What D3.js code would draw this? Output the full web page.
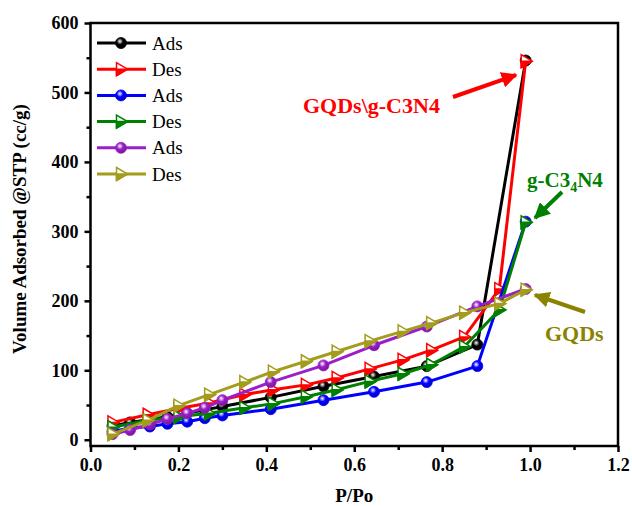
<!DOCTYPE html>
<html>
<head>
<meta charset="utf-8">
<script src="https://cdn.jsdelivr.net/npm/d3@7"></script>
<style>
  body { margin: 0; background: #fff; }
  svg text { font-family: "Liberation Serif", "Times New Roman", serif; font-weight: bold; }
</style>
</head>
<body>
<svg id="chart" width="632" height="506"></svg>
<script>
// relative pressure points
const adsX = [0.05, 0.09, 0.135, 0.175, 0.22, 0.26, 0.30, 0.41, 0.53, 0.645, 0.765, 0.88, 0.99];
const desX = [0.05, 0.13, 0.20, 0.27, 0.35, 0.415, 0.49, 0.56, 0.635, 0.71, 0.775, 0.85, 0.93, 0.99];

// volume adsorbed (cc/g)
const compositeAds = [20, 25, 29, 33, 38, 43, 48, 61, 77, 91, 106, 137, 546];
const compositeDes = [25, 36, 45, 53, 65, 72, 79, 89, 102, 115, 129, 148, 217, 545];
const gcnAds = [12, 17, 19, 23, 26, 31, 35, 44, 57, 69, 83, 106, 314];
const gcnDes = [18, 28, 33, 38, 46, 52, 62, 72, 84, 95, 108, 134, 187, 313];
const gqdAds = [8, 14, 22, 30, 38, 46, 57, 83, 107, 136, 163, 192, 217];
const gqdDes = [8, 28, 49, 65, 83, 98, 113, 127, 142, 156, 168, 183, 196, 216];

const xTicks = [0, 0.2, 0.4, 0.6, 0.8, 1.0, 1.2];
const yTicks = [0, 100, 200, 300, 400, 500, 600];

const series = [
  {name: "Ads", x: adsX, y: compositeAds, color: "#000000", marker: "circle"},
  {name: "Des", x: desX, y: compositeDes, color: "#ff0000", marker: "tri"},
  {name: "Ads", x: adsX, y: gcnAds, color: "#0000ff", marker: "circle"},
  {name: "Des", x: desX, y: gcnDes, color: "#008000", marker: "tri"},
  {name: "Ads", x: adsX, y: gqdAds, color: "#9a1fc8", marker: "circle"},
  {name: "Des", x: desX, y: gqdDes, color: "#a39c1c", marker: "tri"}
];

const svg = d3.select("#chart");
const margin = {left: 90.5, right: 618, top: 23, bottom: 446};

const x = d3.scaleLinear().domain([0, 1.2]).range([margin.left, margin.right]);
const y = d3.scaleLinear().domain([-9, 600]).range([margin.bottom, margin.top]);

// gradients for the shaded ball markers
const defs = svg.append("defs");
series.forEach((s, i) => {
  const g = defs.append("radialGradient")
    .attr("id", "ball" + i)
    .attr("cx", "40%").attr("cy", "35%").attr("r", "65%");
  g.append("stop").attr("offset", "0%").attr("stop-color", "#ffffff");
  g.append("stop").attr("offset", "45%").attr("stop-color", s.color);
  g.append("stop").attr("offset", "100%").attr("stop-color", d3.color(s.color).darker(0.8));
});

// axes
const xMinor = d3.axisBottom(x).tickValues(d3.range(0.1, 1.2, 0.2)).tickSize(4).tickFormat("");
const xMajor = d3.axisBottom(x).tickValues(xTicks).tickSize(6).tickPadding(6).tickFormat(d3.format(".1f"));
const yMinor = d3.axisLeft(y).tickValues(d3.range(50, 600, 100)).tickSize(4).tickFormat("");
const yMajor = d3.axisLeft(y).tickValues(yTicks).tickSize(6).tickPadding(6).tickFormat(d3.format("d"));

function styleAxis(g) {
  g.select(".domain").remove();
  g.selectAll("line").attr("stroke", "#000").attr("stroke-width", 2.5);
  g.selectAll("text").attr("font-size", 18).attr("fill", "#000")
    .style("font-family", "'Liberation Serif', serif").style("font-weight", "bold");
}

svg.append("g").attr("transform", `translate(0,${margin.bottom})`).call(xMinor).call(styleAxis);
svg.append("g").attr("transform", `translate(0,${margin.bottom})`).call(xMajor).call(styleAxis);
svg.append("g").attr("transform", `translate(${margin.left},0)`).call(yMinor).call(styleAxis);
svg.append("g").attr("transform", `translate(${margin.left},0)`).call(yMajor).call(styleAxis);

// frame
svg.append("rect")
  .attr("x", margin.left).attr("y", margin.top)
  .attr("width", margin.right - margin.left).attr("height", margin.bottom - margin.top)
  .attr("fill", "none").attr("stroke", "#000").attr("stroke-width", 2.5);

// axis titles
svg.append("text")
  .attr("x", (margin.left + margin.right) / 2).attr("y", 502)
  .attr("text-anchor", "middle").attr("font-size", 19)
  .text("P/Po");

svg.append("text")
  .attr("transform", "translate(26,229) rotate(-90)")
  .attr("text-anchor", "middle").attr("font-size", 19)
  .text("Volume Adsorbed @STP (cc/g)");

const line = d3.line().x(d => x(d[0])).y(d => y(d[1]));

function drawMarker(g, s, i, cx, cy) {
  if (s.marker === "circle") {
    g.append("circle").attr("cx", cx).attr("cy", cy).attr("r", 5.5)
      .attr("fill", `url(#ball${i})`).attr("stroke", s.color).attr("stroke-width", 0.8);
  } else {
    g.append("path")
      .attr("d", `M${cx - 4.5},${cy - 6.5}L${cx + 6.5},${cy}L${cx - 4.5},${cy + 6.5}Z`)
      .attr("fill", "#fff").attr("stroke", s.color).attr("stroke-width", 1.5);
    g.append("path")
      .attr("d", `M${cx - 4.5},${cy}L${cx + 6.5},${cy}L${cx - 4.5},${cy + 6.5}Z`)
      .attr("fill", s.color).attr("stroke", s.color).attr("stroke-width", 1.5)
      .attr("stroke-linejoin", "round");
  }
}

// series
series.forEach((s, i) => {
  const pts = s.x.map((v, k) => [v, s.y[k]]);
  const g = svg.append("g");
  g.append("path").datum(pts)
    .attr("d", line).attr("fill", "none")
    .attr("stroke", s.color).attr("stroke-width", 3).attr("stroke-linejoin", "round");
  pts.forEach(p => drawMarker(g, s, i, x(p[0]), y(p[1])));
});

// legend
const legend = svg.append("g");
series.forEach((s, i) => {
  const ly = 43 + i * 26.2;
  legend.append("line")
    .attr("x1", 97).attr("x2", 146).attr("y1", ly).attr("y2", ly)
    .attr("stroke", s.color).attr("stroke-width", 3);
  drawMarker(legend, s, i, 121, ly);
  legend.append("text")
    .attr("x", 152).attr("y", ly + 6.5)
    .attr("font-size", 19).style("font-weight", "normal")
    .text(s.name);
});

// annotations
const arrowHead = (id, color) => {
  defs.append("marker")
    .attr("id", id).attr("viewBox", "0 0 10 10")
    .attr("refX", 9).attr("refY", 5)
    .attr("markerWidth", 4).attr("markerHeight", 4)
    .attr("orient", "auto")
    .append("path").attr("d", "M0,0L10,5L0,10Z").attr("fill", color);
};
arrowHead("arRed", "#ff0000");
arrowHead("arGreen", "#008000");
arrowHead("arOlive", "#8b8200");

svg.append("text")
  .attr("x", 303).attr("y", 113)
  .attr("font-size", 22).attr("fill", "#ff0000")
  .text("GQDs\\g-C3N4");
svg.append("line")
  .attr("x1", 453).attr("y1", 97).attr("x2", 516).attr("y2", 75)
  .attr("stroke", "#ff0000").attr("stroke-width", 4).attr("marker-end", "url(#arRed)");

const gLabel = svg.append("text")
  .attr("x", 527).attr("y", 187)
  .attr("font-size", 21).attr("fill", "#008000");
gLabel.append("tspan").text("g-C3");
gLabel.append("tspan").attr("font-size", 14).attr("dy", 5).text("4");
gLabel.append("tspan").attr("dy", -5).text("N4");
svg.append("line")
  .attr("x1", 562).attr("y1", 192).attr("x2", 535).attr("y2", 218)
  .attr("stroke", "#008000").attr("stroke-width", 4).attr("marker-end", "url(#arGreen)");

svg.append("text")
  .attr("x", 545).attr("y", 341)
  .attr("font-size", 22).attr("fill", "#8b8200")
  .text("GQDs");
svg.append("line")
  .attr("x1", 585).attr("y1", 312).attr("x2", 535).attr("y2", 295)
  .attr("stroke", "#8b8200").attr("stroke-width", 4).attr("marker-end", "url(#arOlive)");
</script>
</body>
</html>
